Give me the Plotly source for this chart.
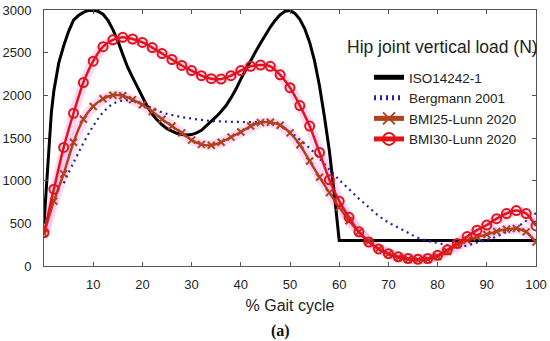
import plotly.graph_objects as go

# ---- data ----
iso_x = [0, 0.5, 1, 1.5, 2, 3, 4, 5, 6, 7, 8, 9, 10, 11, 12, 13, 14, 15, 16, 17, 18, 19, 20,
         21, 22, 23, 24, 25, 26, 27, 28, 29, 30, 31, 32, 33, 34, 35, 36, 37, 38, 39, 40,
         41, 42, 43, 44, 45, 46, 47, 48, 49, 50, 51, 52, 53, 54, 55, 56, 57, 58, 59, 60, 100]
iso_y = [500, 950, 1450, 1800, 2050, 2380, 2580, 2750, 2880, 2935, 2972, 2995, 2998, 2984, 2950,
         2880, 2770, 2640, 2480, 2330, 2210, 2100, 1985, 1870, 1780, 1710, 1655, 1610, 1580,
         1555, 1540, 1535, 1540, 1560, 1590, 1640, 1690, 1750, 1810, 1880, 1970, 2070, 2190,
         2300, 2410, 2510, 2610, 2710, 2800, 2880, 2945, 2985, 2995, 2960, 2890, 2780, 2620,
         2400, 2110, 1750, 1350, 850, 300, 300]

berg_x = [4, 6, 8, 10, 12, 14, 16, 18, 20, 22, 24, 26, 28, 30, 32, 34, 36, 38, 40, 42, 44, 46,
          48, 50, 52, 54, 56, 58, 60, 62, 64, 66, 68, 70, 72, 74, 76, 78, 80, 82, 84, 86, 88,
          90, 92, 94, 96, 98, 100]
berg_y = [970, 1210, 1440, 1640, 1800, 1900, 1940, 1935, 1900, 1850, 1800, 1770, 1745, 1728,
          1712, 1700, 1695, 1690, 1688, 1686, 1685, 1680, 1640, 1570, 1480, 1380, 1260, 1130,
          1010, 900, 790, 690, 590, 510, 450, 390, 330, 295, 270, 245, 230, 240, 275, 305, 345,
          400, 450, 530, 620]

lunn_x = list(range(0, 101, 2))
bmi25_y = [380, 760, 1080, 1450, 1720, 1870, 1960, 2000, 1995, 1950, 1890, 1810, 1720, 1640,
           1560, 1475, 1425, 1415, 1450, 1510, 1570, 1640, 1680, 1685, 1650, 1560, 1420, 1230,
           1040, 860, 690, 530, 400, 290, 200, 140, 100, 80, 72, 78, 110, 170, 250, 300, 340,
           370, 405, 430, 440, 400, 280]
bmi30_y = [390, 900, 1390, 1790, 2150, 2400, 2570, 2650, 2680, 2660, 2620, 2560, 2490, 2420,
           2350, 2290, 2230, 2195, 2190, 2230, 2290, 2340, 2355, 2340, 2240, 2090, 1880, 1640,
           1330, 1010, 760, 570, 400, 280, 200, 145, 108, 88, 78, 88, 125, 190, 265, 345, 420,
           480, 555, 615, 650, 615, 470]

x_ticks = [10, 20, 30, 40, 50, 60, 70, 80, 90, 100]
y_ticks = [0, 500, 1000, 1500, 2000, 2500, 3000]

FONT = "Liberation Sans, Arial, sans-serif"
halo = "rgba(255,150,235,0.35)"

PW, PH = 492, 256   # plot-area size in px
L, T = 44, 10

fig = go.Figure()

for yy in (bmi25_y, bmi30_y):
    fig.add_trace(go.Scatter(x=lunn_x, y=yy, mode="lines", line=dict(color=halo, width=10),
                             showlegend=False, hoverinfo="skip"))

fig.add_trace(go.Scatter(x=iso_x, y=iso_y, mode="lines", name="ISO14242-1",
                         line=dict(color="black", width=3)))
fig.add_trace(go.Scatter(x=berg_x, y=berg_y, mode="lines", name="Bergmann 2001",
                         line=dict(color="#2a229a", width=2.2, dash="2px,4px", shape="spline")))
fig.add_trace(go.Scatter(x=lunn_x, y=bmi25_y, mode="lines+markers", name="BMI25-Lunn 2020",
                         line=dict(color="#b0421c", width=2.5, shape="spline", smoothing=0.6),
                         marker=dict(symbol="x-thin-open", size=7,
                                     line=dict(color="#7a5a1c", width=2))))
fig.add_trace(go.Scatter(x=lunn_x, y=bmi30_y, mode="lines+markers", name="BMI30-Lunn 2020",
                         line=dict(color="#e2141a", width=2.5, shape="spline", smoothing=0.6),
                         marker=dict(symbol="circle-open", size=9,
                                     line=dict(color="#945a1e", width=2))))

axis_common = dict(showline=True, linecolor="#555", linewidth=1, mirror="ticks",
                   ticks="inside", ticklen=4, tickcolor="#555", showgrid=False,
                   zeroline=False, ticklabeloverflow="allow", automargin=False,
                   tickfont=dict(family=FONT, size=13, color="#222"))

fig.update_xaxes(range=[0, 100], tickvals=x_ticks, ticktext=[str(v) for v in x_ticks],
                 title=dict(text="% Gait cycle", font=dict(family=FONT, size=16, color="#222"),
                            standoff=9),
                 ticklabelstandoff=6, **axis_common)
fig.update_yaxes(range=[0, 3000], tickvals=y_ticks, ticktext=[str(v) for v in y_ticks],
                 ticklabelstandoff=9, **axis_common)

# positions given in page pixels (plot area: x 44..536, y 10..266)
def px(xp):
    return (xp - L) / PW

def py(yp):
    return (T + PH - yp) / PH

fig.add_annotation(text="Hip joint vertical load (N)", xref="paper", yref="paper",
                   x=px(345), y=py(47), xanchor="left", yanchor="middle",
                   showarrow=False, font=dict(family=FONT, size=17.5, color="#222"))
fig.add_annotation(text="<b>(a)</b>", xref="paper", yref="paper",
                   x=px(280), y=py(331), xanchor="center", yanchor="middle",
                   showarrow=False, font=dict(family="Liberation Serif, Times New Roman, serif",
                                              size=16, color="#111"))

fig.update_layout(
    width=550, height=341,
    margin=dict(l=L, r=550 - L - PW, t=T, b=341 - T - PH),
    paper_bgcolor="white", plot_bgcolor="white",
    showlegend=True,
    legend=dict(x=px(369), y=py(62), xanchor="left", yanchor="top",
                bgcolor="rgba(255,255,255,0)", font=dict(family=FONT, size=13.5, color="#222"),
                tracegroupgap=0, itemsizing="constant"),
)

fig.write_html("out.html", config={"displayModeBar": False},
               post_script="document.body.style.margin='0';document.body.style.overflow='hidden';")
